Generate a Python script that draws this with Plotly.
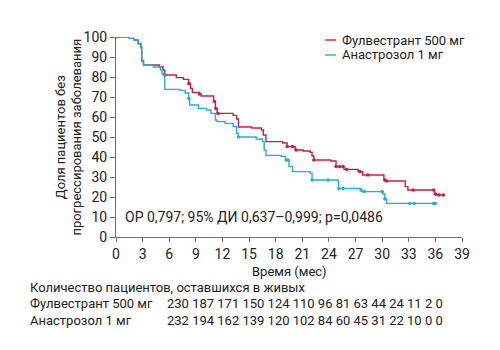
import numpy as np
import plotly.graph_objects as go

# Kaplan-Meier step data (time in months, % progression-free)
ful_t = [0, 1.5, 2.0, 2.5, 2.8, 2.9, 3.1, 4.9, 5.3, 5.5, 6.8, 7.6, 8.2, 8.4, 8.6, 9.4, 9.6, 11.0, 11.2, 11.4,
         13.2, 13.6, 13.8, 15.3, 16.4, 16.6, 16.9, 18.8, 19.3, 20.2, 21.1, 21.9, 22.1, 22.3, 24.2, 24.8,
         25.7, 27.3, 27.8, 30.2, 30.4, 32.6, 32.9, 35.9, 36.1, 36.9]
ful_s = [100, 99.3, 98.5, 96.8, 95, 88, 86, 85, 83.5, 81, 79.7, 78.8, 76.8, 74.3, 72.3, 71.5, 70.5, 67.7, 64.3, 61.8,
         60.8, 59, 55, 54.5, 53.5, 51, 47.7, 47, 45.2, 43.5, 43, 42.3, 40.5, 38.5, 38, 35.2,
         33.8, 32.7, 31, 28.5, 28, 25.2, 23.5, 21.5, 21, 21]
ana_t = [0, 1.5, 2.0, 2.5, 2.8, 2.9, 3.1, 4.2, 5.0, 5.2, 5.5, 7.2, 7.8, 8.2, 8.3, 9.3, 10.2, 10.7, 11.2, 11.4,
         12.3, 13.2, 13.6, 13.8, 15.8, 16.5, 16.7, 16.9, 18.6, 19.1, 19.5, 19.9, 21.9, 22.1, 25.0, 25.1,
         27.6, 27.7, 30.1, 30.3, 30.5, 36.0]
ana_s = [100, 99.3, 98.5, 96.5, 94.5, 88, 86, 85, 83.5, 81.5, 73.8, 73.3, 72, 69.3, 66, 64.3, 63.5, 61.8, 58.5, 57.7,
         56.8, 55.2, 51.8, 50, 49, 47.7, 43.5, 40.8, 40.3, 38.5, 35.2, 32.7, 31.8, 28.5, 28, 24.3,
         23.5, 22.7, 21.5, 19, 16.8, 16.8]

# censored observation times
ful_cens = [0, 5.5, 8.2, 9.4, 11.1, 11.25, 11.5, 19.3, 19.9, 20.3, 22.3, 24.8, 25.2, 25.6, 26.0, 27.5, 28.4,
            30.3, 30.5, 33.5, 35.8, 36.0, 36.4, 36.9]
ana_cens = [3.0, 5.4, 8.2, 13.8, 19.2, 19.4, 22.1, 23.9, 25.1, 25.6, 27.6, 28.0, 30.0, 30.3, 33.1, 33.6, 35.8, 36.0]

series_names = ["Фулвестрант 500 мг", "Анастрозол 1 мг"]
at_risk_ful = [230, 187, 171, 150, 124, 110, 96, 81, 63, 44, 24, 11, 2, 0]
at_risk_ana = [232, 194, 162, 139, 120, 102, 84, 60, 45, 31, 22, 10, 0, 0]
x_ticks = list(range(0, 40, 3))
y_ticks = list(range(0, 101, 10))

RED = "#c8203c"
BLUE = "#22b0d8"
FONT = "Roboto"


def step_val(ts, ss, t):
    i = np.searchsorted(np.array(ts), t, side="right") - 1
    return ss[max(i, 0)]


fig = go.Figure()
for ts, ss, cens, col, name in [(ful_t, ful_s, ful_cens, RED, series_names[0]),
                                (ana_t, ana_s, ana_cens, BLUE, series_names[1])]:
    fig.add_trace(go.Scatter(x=ts, y=ss, mode="lines", line=dict(color=col, width=1.4, shape="hv"),
                             name=name, showlegend=False))
    fig.add_trace(go.Scatter(x=cens, y=[step_val(ts, ss, c) for c in cens], mode="markers",
                             marker=dict(color=col, size=3.5, symbol="circle"), showlegend=False))

axis_common = dict(showgrid=False, zeroline=False, showline=True, linecolor="#6d6d6d", linewidth=1,
                   ticks="outside", tickcolor="#6d6d6d", tickfont=dict(family=FONT, size=14, color="#222"))
fig.update_xaxes(range=[0, 39], tickvals=x_ticks, ticklen=4, **axis_common)
fig.update_yaxes(range=[0, 100], tickvals=y_ticks, ticklen=5, **axis_common)

ann = []
# legend (manual)
for i, (name, col) in enumerate(zip(series_names, [RED, BLUE])):
    yv = 0.985 - i * 0.075
    fig.add_shape(type="line", xref="paper", yref="paper", x0=0.604, x1=0.636, y0=yv, y1=yv,
                  line=dict(color=col, width=1.4))
    ann.append(dict(xref="paper", yref="paper", x=0.648, y=yv, text=name, showarrow=False,
                    xanchor="left", yanchor="middle", font=dict(family=FONT, size=13, color="#222")))

ann.append(dict(xref="paper", yref="paper", x=0.02, y=0.1, text="ОР 0,797; 95% ДИ 0,637–0,999; p=0,0486",
                showarrow=False, xanchor="left", yanchor="middle", font=dict(family=FONT, size=14, color="#222")))
ann.append(dict(xref="paper", yref="paper", x=-0.137, y=0.5,
                text="Доля пациентов без<br>прогрессирования заболевания", textangle=-90, showarrow=False,
                xanchor="center", yanchor="middle", font=dict(family=FONT, size=13, color="#222")))
ann.append(dict(xref="paper", yref="paper", x=0.5, y=-0.172, text="Время (мес)", showarrow=False,
                xanchor="center", yanchor="middle", font=dict(family=FONT, size=13, color="#222")))
ann.append(dict(xref="paper", yref="paper", x=-0.254, y=-0.25, text="Количество пациентов, оставшихся в живых",
                showarrow=False, xanchor="left", yanchor="middle", font=dict(family=FONT, size=13, color="#222")))
for j, (name, vals) in enumerate(zip(series_names, [at_risk_ful, at_risk_ana])):
    yv = -0.33 - j * 0.085
    ann.append(dict(xref="paper", yref="paper", x=-0.254, y=yv, text=name, showarrow=False,
                    xanchor="left", yanchor="middle", font=dict(family=FONT, size=13, color="#222")))
    ann.append(dict(xref="paper", yref="paper", x=0.142, y=yv, text=" ".join(str(v) for v in vals),
                    showarrow=False, xanchor="left", yanchor="middle",
                    font=dict(family=FONT, size=13, color="#222")))

fig.update_layout(width=500, height=350, margin=dict(l=116, r=38, t=37, b=113),
                  plot_bgcolor="white", paper_bgcolor="white", annotations=ann,
                  font=dict(family=FONT, color="#222"))
fig.write_html("out.html")
